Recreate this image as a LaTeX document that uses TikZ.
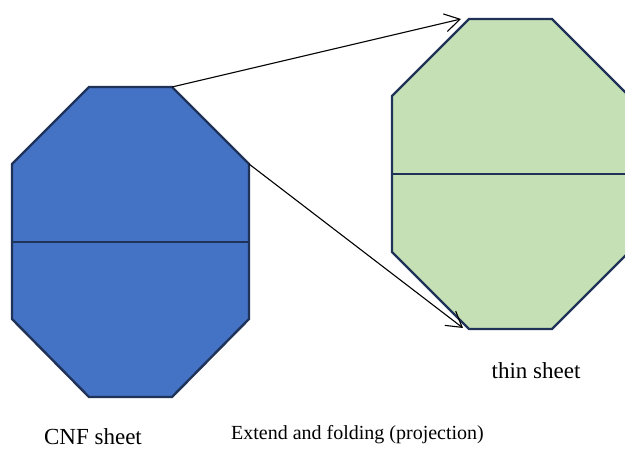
\documentclass[tikz,border=0pt]{standalone}
\usepackage{fontspec}
\setmainfont{Liberation Serif}
\usetikzlibrary{arrows.meta}
\definecolor{cnfblue}{HTML}{4472C4}
\definecolor{thingreen}{HTML}{C5E0B4}
\definecolor{edgenavy}{HTML}{1F3258}
\tikzset{
  sheet/.style={draw=edgenavy, line width=2.4pt, line join=miter},
  foldline/.style={draw=edgenavy, line width=2.4pt},
  projarrow/.style={draw=black, line width=1.1pt, -{Straight Barb[length=15pt,width=18pt,line width=1.1pt]}},
  lbl/.style={anchor=base, inner sep=0pt, text=black}
}
\begin{document}
\begin{tikzpicture}[x=1pt,y=-1pt]
\useasboundingbox (0,0) rectangle (625,449);
\clip (0,0) rectangle (625,449);
% CNF sheet (blue octagon)
\coordinate (b1) at (89,87);
\coordinate (b2) at (172,87);
\coordinate (b3) at (249,164);
\coordinate (b4) at (249,319);
\coordinate (b5) at (172,397);
\coordinate (b6) at (89,397);
\coordinate (b7) at (12,319);
\coordinate (b8) at (12,164);
\coordinate (bl) at (12,242);
\coordinate (br) at (249,242);
\path[sheet, fill=cnfblue] (b1) -- (b2) -- (b3) -- (b4) -- (b5) -- (b6) -- (b7) -- (b8) -- cycle;
\draw[foldline] (bl) -- (br);
% thin sheet (green octagon)
\coordinate (g1) at (469,19);
\coordinate (g2) at (552,19);
\coordinate (g3) at (629,96);
\coordinate (g4) at (629,252);
\coordinate (g5) at (552,329);
\coordinate (g6) at (469,329);
\coordinate (g7) at (392,252);
\coordinate (g8) at (392,96);
\coordinate (gl) at (392,174);
\coordinate (gr) at (629,174);
\path[sheet, fill=thingreen] (g1) -- (g2) -- (g3) -- (g4) -- (g5) -- (g6) -- (g7) -- (g8) -- cycle;
\draw[foldline] (gl) -- (gr);
% projection arrows
\coordinate (t1) at (461,19);
\coordinate (t2) at (463,328);
\draw[projarrow] (b2) -- (t1);
\draw[projarrow] (b3) -- (t2);
% labels
\node[lbl, font=\fontsize{23}{27}\selectfont] (thin) at (536,379) {thin sheet};
\node[lbl, font=\fontsize{23}{27}\selectfont] (cnf) at (93,445) {CNF sheet};
\node[lbl, font=\fontsize{20}{24}\selectfont] (ext) at (357.5,440) {Extend and folding (projection)};
\end{tikzpicture}
\end{document}
